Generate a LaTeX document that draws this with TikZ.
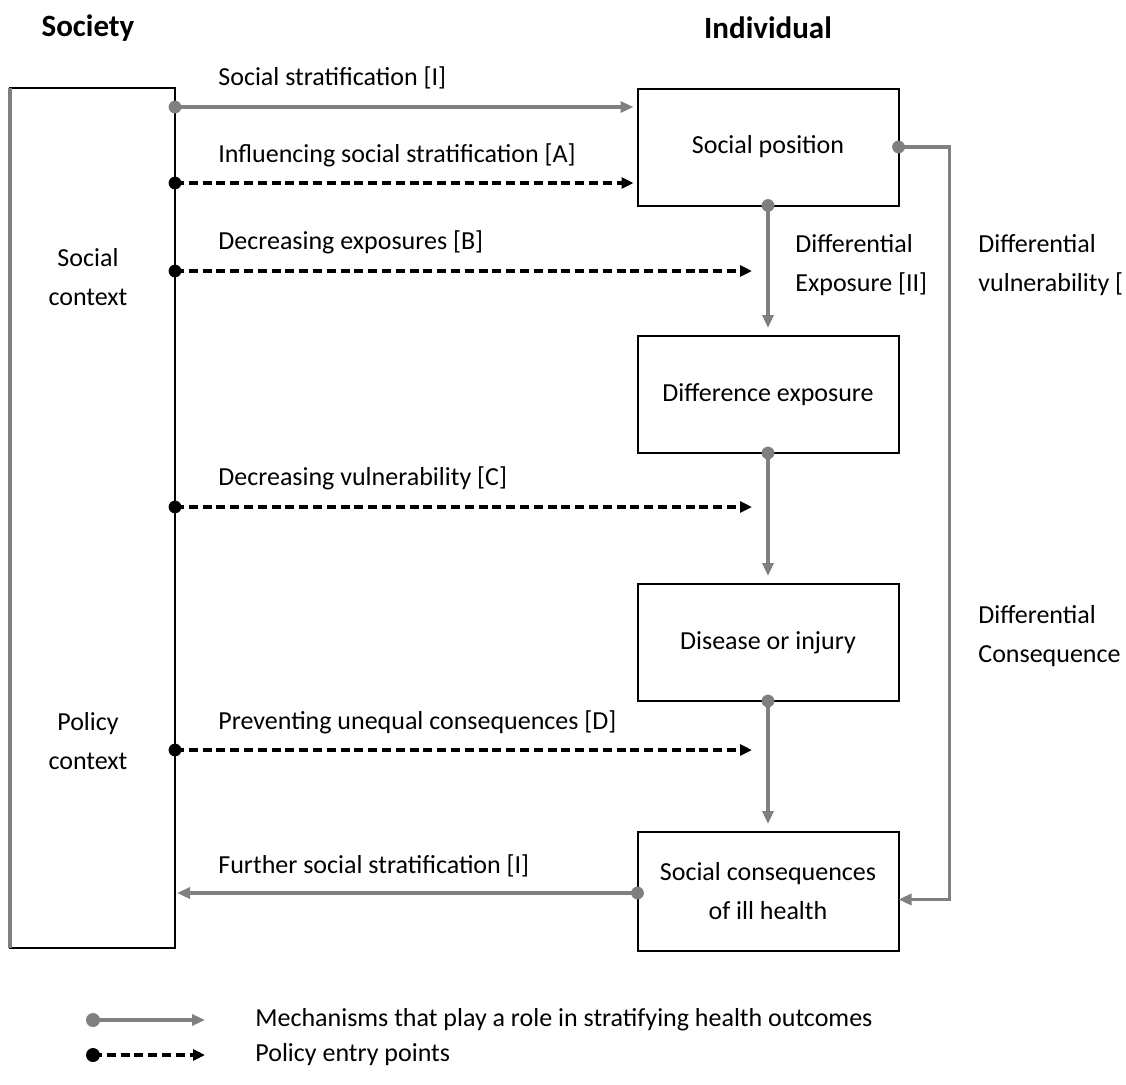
\documentclass[tikz,border=0pt]{standalone}
\usepackage{fontspec}
\setmainfont{Carlito}
\usetikzlibrary{arrows.meta,calc}
\definecolor{mgray}{HTML}{808080}
\begin{document}
\begin{tikzpicture}[x=0.5pt,y=-0.5pt,
  font=\fontsize{13}{19.5}\selectfont,
  box/.style={draw, line width=1pt, outer sep=0pt, inner sep=0pt, align=center},
  mech/.style={draw=mgray, line width=1.6pt, -{Triangle[length=6.5pt,width=5.5pt]}},
  pol/.style={draw=black, line width=1.7pt, dash pattern=on 4.5pt off 2.4pt, -{Triangle[length=6pt,width=5.5pt]}},
  gdot/.style={fill=mgray},
  bdot/.style={fill=black},
  lbl/.style={anchor=west, inner sep=0pt, align=left},
  ctx/.style={inner sep=0pt, align=center},
  head/.style={inner sep=0pt, font=\fontsize{15.5}{18}\selectfont\bfseries},
]
\useasboundingbox (0,0) rectangle (1126,1084);

% boxes
\node[box, minimum width=82.5pt, minimum height=430pt] (soc) at (92.5,518) {};
\draw[mgray, line width=2pt] (soc.north west) -- (soc.south west);
\node[box, minimum width=130.5pt, minimum height=58.5pt] (sp) at (768,147) {Social position};
\node[box, minimum width=130.5pt, minimum height=58.5pt] (de) at (768,394.5) {Difference exposure};
\node[box, minimum width=130.5pt, minimum height=58.5pt] (di) at (768,642.5) {Disease or injury};
\node[box, minimum width=130.5pt, minimum height=59.5pt] (sc) at (768,891.5) {Social consequences\\of ill health};

% headings and context labels
\node[head] (hsoc) at (88,28) {Society};
\node[head] (hind) at (768,28) {Individual};
\node[ctx] (sctx) at (88,277) {Social\\context};
\node[ctx] (pctx) at (88,741) {Policy\\context};

% points on the society box edge
\coordinate (pI) at ($(soc.north east)+(0,19)$);
\coordinate (pA) at ($(soc.north east)+(0,95)$);
\coordinate (pB) at ($(soc.north east)+(0,183)$);
\coordinate (pC) at ($(soc.north east)+(0,419)$);
\coordinate (pD) at ($(soc.north east)+(0,662)$);
\coordinate (pF) at ($(soc.north east)+(0,805)$);
\coordinate (eB) at (752,271);
\coordinate (eC) at (752,507);
\coordinate (eD) at (752,750);

% arrow labels
\node[lbl] (lI) at (218,78) {Social stratification [I]};
\node[lbl] (lA) at (218,155) {Influencing social stratification [A]};
\node[lbl] (lB) at (218,242) {Decreasing exposures [B]};
\node[lbl] (lC) at (218,478) {Decreasing vulnerability [C]};
\node[lbl] (lD) at (218,722) {Preventing unequal consequences [D]};
\node[lbl] (lF) at (218,866) {Further social stratification [I]};
\node[lbl] (lII) at (795,265) {Differential\\Exposure [II]};
\node[lbl] (lIII) at (978,265) {Differential\\vulnerability [};
\node[lbl] (lIV) at (978,636) {Differential\\Consequence};

% mechanisms
\draw[mech, shorten >=2pt] (pI) -- (sp.west |- pI);
\fill[gdot] (pI) circle (3.2pt);
\draw[mech, shorten >=4pt] (sp.south) -- (de.north);
\fill[gdot] (sp.south) circle (3.2pt);
\draw[mech, shorten >=4pt] (de.south) -- (di.north);
\fill[gdot] (de.south) circle (3.2pt);
\draw[mech, shorten >=4pt] (di.south) -- (sc.north);
\fill[gdot] (di.south) circle (3.2pt);
\draw[mech] (sp.east) -- ($(sp.east)+(51,0)$) |- ($(sc.east)+(0,8)$);
\fill[gdot] (sp.east) circle (3.2pt);
\draw[mech, shorten >=1pt] (sc.west |- pF) -- (pF);
\fill[gdot] (sc.west |- pF) circle (3.2pt);

% policy entry points
\draw[pol, shorten >=2pt] (pA) -- (sp.west |- pA);
\fill[bdot] (pA) circle (3.2pt);
\draw[pol] (pB) -- (eB);
\fill[bdot] (pB) circle (3.2pt);
\draw[pol] (pC) -- (eC);
\fill[bdot] (pC) circle (3.2pt);
\draw[pol] (pD) -- (eD);
\fill[bdot] (pD) circle (3.2pt);

% legend
\node[lbl] (lg1) at (255,1020) {Mechanisms that play a role in stratifying health outcomes};
\node[lbl] (lg2) at (255,1055) {Policy entry points};
\coordinate (g1s) at (93,1020);
\coordinate (g1e) at (205,1020);
\coordinate (g2s) at (93,1055);
\coordinate (g2e) at (205,1055);
\draw[mech] (g1s) -- (g1e);
\fill[gdot] (g1s) circle (3.5pt);
\draw[pol] (g2s) -- (g2e);
\fill[bdot] (g2s) circle (3.5pt);
\end{tikzpicture}
\end{document}
